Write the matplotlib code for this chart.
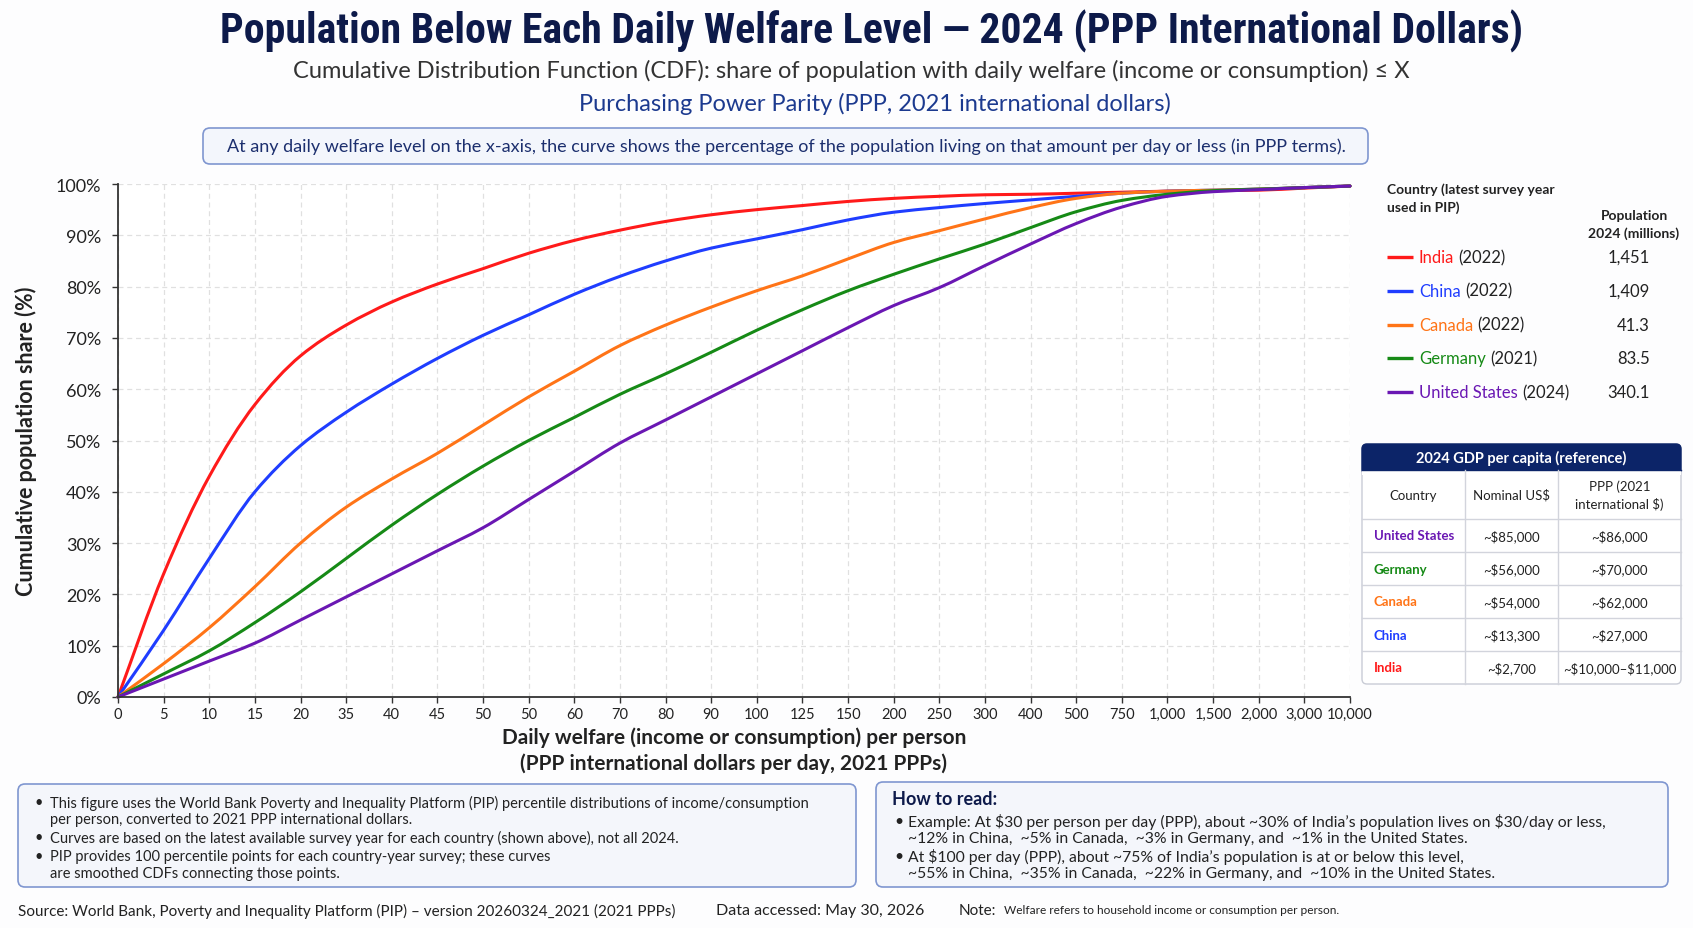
import numpy as np
import matplotlib.pyplot as plt
from matplotlib import font_manager
from matplotlib.patches import FancyBboxPatch, Rectangle, PathPatch
from matplotlib.path import Path

# x-axis categories (daily welfare, PPP $), as labelled in the figure
welfare_labels = ['0', '5', '10', '15', '20', '35', '40', '45', '50', '50', '60', '70', '80', '90',
                  '100', '125', '150', '200', '250', '300', '400', '500', '750', '1,000', '1,500',
                  '2,000', '3,000', '10,000']

# cumulative population share (%) at each label
india = [0, 24, 43, 57, 66.5, 72.5, 77, 80.5, 83.5, 86.5, 89, 91, 92.7, 94,
         95, 95.8, 96.6, 97.2, 97.6, 97.9, 98.0, 98.2, 98.4, 98.6, 98.7, 98.8, 99.2, 99.6]
china = [0, 13, 27, 40, 49, 55.5, 61, 66, 70.5, 74.5, 78.5, 82, 85, 87.5,
         89.3, 91.1, 93.0, 94.5, 95.4, 96.2, 96.9, 97.6, 98.2, 98.6, 98.8, 99.0, 99.3, 99.6]
canada = [0, 6.5, 13.5, 21.5, 30, 37, 42.5, 47.5, 53, 58.5, 63.5, 68.5, 72.5, 76,
          79.2, 82.1, 85.4, 88.6, 90.9, 93.2, 95.4, 97.2, 98.2, 98.6, 98.8, 99.0, 99.3, 99.6]
germany = [0, 4.5, 9, 14.5, 20.5, 27, 33.5, 39.5, 45, 50, 54.5, 59, 63, 67.2,
           71.5, 75.5, 79.2, 82.4, 85.4, 88.3, 91.5, 94.6, 96.8, 98.0, 98.7, 99.0, 99.3, 99.6]
usa = [0, 3.5, 7, 10.5, 15, 19.5, 24, 28.5, 33, 38.5, 44, 49.5, 54, 58.5,
       63, 67.5, 72, 76.3, 79.8, 84.1, 88.3, 92.3, 95.5, 97.6, 98.5, 98.9, 99.3, 99.6]

countries = ['India', 'China', 'Canada', 'Germany', 'United States']
survey_years = ['2022', '2022', '2022', '2021', '2024']
population = ['1,451', '1,409', '41.3', '83.5', '340.1']
colors = ['#ff1a1a', '#1f3dff', '#ff7417', '#168a16', '#6a17b3']
series = [india, china, canada, germany, usa]

# GDP per capita reference table
gdp_countries = ['United States', 'Germany', 'Canada', 'China', 'India']
gdp_nominal = ['~$85,000', '~$56,000', '~$54,000', '~$13,300', '~$2,700']
gdp_ppp = ['~$86,000', '~$70,000', '~$62,000', '~$27,000', '~$10,000–$11,000']

names = {f.name for f in font_manager.fontManager.ttflist}
BASE = 'Lato'
NARROW = None
for cand in ['Liberation Sans Narrow', 'DejaVu Sans Condensed', 'Roboto Condensed']:
    if cand in names:
        NARROW = cand
        break

plt.rcParams['font.family'] = [BASE, 'DejaVu Sans']
plt.rcParams['text.parse_math'] = False

W, H = 1693, 929
NAVY = '#0d1a4a'
DARK = '#222222'


def smooth_path(xs, ys):
    # monotone cubic (Fritsch-Carlson) through the points, as bezier segments
    xs = np.asarray(xs, float)
    ys = np.asarray(ys, float)
    h = np.diff(xs)
    d = np.diff(ys) / h
    m = np.zeros_like(ys)
    m[0], m[-1] = d[0], d[-1]
    for k in range(1, len(xs) - 1):
        if d[k - 1] * d[k] > 0:
            w1 = 2 * h[k] + h[k - 1]
            w2 = h[k] + 2 * h[k - 1]
            m[k] = (w1 + w2) / (w1 / d[k - 1] + w2 / d[k])
    verts = [(xs[0], ys[0])]
    codes = [Path.MOVETO]
    for k in range(len(xs) - 1):
        verts += [(xs[k] + h[k] / 3, ys[k] + m[k] * h[k] / 3),
                  (xs[k + 1] - h[k] / 3, ys[k + 1] - m[k + 1] * h[k] / 3),
                  (xs[k + 1], ys[k + 1])]
        codes += [Path.CURVE4] * 3
    return Path(verts, codes)


fig = plt.figure(figsize=(W / 100, H / 100), dpi=100, facecolor='#fdfdfe')

# decoration layer in pixel coordinates
deco = fig.add_axes([0, 0, 1, 1], zorder=0)
deco.set_xlim(0, W)
deco.set_ylim(H, 0)
deco.axis('off')


def rbox(x0, y0, x1, y1, fc, ec, r=7, lw=1.2):
    deco.add_patch(FancyBboxPatch((x0, y0), x1 - x0, y1 - y0,
                                  boxstyle=f'round,pad=0,rounding_size={r}',
                                  fc=fc, ec=ec, lw=lw))


# titles
if NARROW:
    tfam, tstretch = [NARROW, 'DejaVu Sans'], 'normal'
else:
    tfam, tstretch = ['DejaVu Sans'], 'condensed'
title = deco.text(872, 31, 'Population Below Each Daily Welfare Level — 2024 (PPP International Dollars)',
                  ha='center', va='center', fontsize=32, fontweight='bold', color=NAVY,
                  family=tfam, fontstretch=tstretch)
fig.canvas.draw()
tw = title.get_window_extent().width
title.set_fontsize(min(34, 32 * 1302 / tw))

deco.text(851, 71, 'Cumulative Distribution Function (CDF): share of population with daily welfare '
          '(income or consumption) ≤ X', ha='center', va='center', fontsize=17, color='#333333')
deco.text(875, 104, 'Purchasing Power Parity (PPP, 2021 international dollars)',
          ha='center', va='center', fontsize=17, color='#1c3a8f')

rbox(203, 129, 1368, 165, '#f3f6fc', '#7f96d0', r=7)
deco.text(786, 147, 'At any daily welfare level on the x-axis, the curve shows the percentage of the '
          'population living on that amount per day or less (in PPP terms).',
          ha='center', va='center', fontsize=13, color='#1c2f6e')

# main chart
ax = fig.add_axes([118 / W, 1 - 698 / H, (1350 - 118) / W, (698 - 185) / H], zorder=2)
ax.set_facecolor('white')
x = np.arange(len(welfare_labels))
for vals, c in zip(series, colors):
    ax.add_patch(PathPatch(smooth_path(x, vals), fill=False, ec=c, lw=2.2,
                           capstyle='round', joinstyle='round', clip_on=False))
ax.set_xlim(0, len(welfare_labels) - 1)
ax.set_ylim(0, 100)
ax.set_xticks(x, welfare_labels, fontsize=10.5, color=DARK)
ax.set_yticks(np.arange(0, 101, 10), [f'{v}%' for v in range(0, 101, 10)], fontsize=13, color=DARK)
ax.grid(True, ls=(0, (4, 3)), color='#e0e0e0', lw=0.9)
ax.set_axisbelow(True)
for s in ['top', 'right']:
    ax.spines[s].set_visible(False)
for s in ['left', 'bottom']:
    ax.spines[s].set_color('#333333')
    ax.spines[s].set_linewidth(1.3)
ax.tick_params(axis='both', length=4, width=1, color='#333333')
ax.tick_params(axis='y', pad=8)
ax.tick_params(axis='x', pad=3)
ax.set_ylabel('Cumulative population share (%)', fontsize=15.5, fontweight='bold', color=DARK)
ax.yaxis.set_label_coords(-0.066, 0.5)
ax.set_xlabel('Daily welfare (income or consumption) per person\n'
              '(PPP international dollars per day, 2021 PPPs)',
              fontsize=15, fontweight='bold', color=DARK, linespacing=1.3)
ax.xaxis.set_label_coords(0.5, -0.058)

# legend block
deco.text(1387, 199, 'Country (latest survey year\nused in PIP)', ha='left', va='center',
          fontsize=10, fontweight='bold', color=DARK, linespacing=1.5)
deco.text(1634, 225, 'Population\n2024 (millions)', ha='center', va='center',
          fontsize=10, fontweight='bold', color=DARK, linespacing=1.5)
for i, (name, yr, pop, c) in enumerate(zip(countries, survey_years, population, colors)):
    yy = 258 + i * 33.8
    deco.plot([1387, 1413], [yy, yy], color=c, lw=2.4, solid_capstyle='butt')
    t = deco.text(1419, yy, name, ha='left', va='center', fontsize=12, color=c)
    deco.annotate(f'({yr})', xy=(1, 0), xycoords=t, xytext=(3, 0), textcoords='offset points',
                  ha='left', va='bottom', fontsize=12, color=DARK)
    deco.text(1650, yy, pop, ha='right', va='center', fontsize=12, color=DARK)

# GDP table
tx0, tx1 = 1362, 1681
cols = [1362, 1465, 1558, 1681]
ty_head, ty_col, ty_rows = 445, 471, 520
row_h = 33
ty_end = ty_rows + row_h * len(gdp_countries)
rbox(tx0, ty_head, tx1, ty_end, 'white', '#c9ccd6', r=5, lw=1.0)
rbox(tx0, ty_head, tx1, ty_col + 4, '#0c2468', '#0c2468', r=5, lw=1.0)
deco.add_patch(Rectangle((tx0, ty_col), tx1 - tx0, 5, fc='white', ec='none'))
deco.plot([tx0, tx1], [ty_col, ty_col], color='#0c2468', lw=1)
deco.text((tx0 + tx1) / 2, (ty_head + ty_col) / 2, '2024 GDP per capita (reference)',
          ha='center', va='center', fontsize=10.5, fontweight='bold', color='white')
for cx in cols[1:-1]:
    deco.plot([cx, cx], [ty_col, ty_end], color='#d2d4dc', lw=1)
for k in range(len(gdp_countries)):
    yy = ty_rows + k * row_h
    deco.plot([tx0, tx1], [yy, yy], color='#d2d4dc', lw=1)
hy = (ty_col + ty_rows) / 2
deco.text((cols[0] + cols[1]) / 2, hy, 'Country', ha='center', va='center', fontsize=9.5, color=DARK)
deco.text((cols[1] + cols[2]) / 2, hy, 'Nominal US$', ha='center', va='center', fontsize=9.5,
          color=DARK)
deco.text((cols[2] + cols[3]) / 2, hy, 'PPP (2021\ninternational $)', ha='center', va='center',
          fontsize=9.5, color=DARK, linespacing=1.5)
gdp_colors = dict(zip(countries, colors))
for k, (cn, nom, ppp) in enumerate(zip(gdp_countries, gdp_nominal, gdp_ppp)):
    yy = ty_rows + (k + 0.5) * row_h
    deco.text(cols[0] + 12, yy, cn, ha='left', va='center', fontsize=9.5, fontweight='bold',
              color=gdp_colors[cn])
    deco.text((cols[1] + cols[2]) / 2, yy, nom, ha='center', va='center', fontsize=9.5, color=DARK)
    deco.text((cols[2] + cols[3]) / 2, yy, ppp, ha='center', va='center', fontsize=9.5, color=DARK)

# bottom notes
rbox(18, 785, 856, 888, '#f4f6fb', '#7f96d0', r=7)
left_lines = [
    (803, True, 'This figure uses the World Bank Poverty and Inequality Platform (PIP) percentile '
                'distributions of income/consumption'),
    (820, False, 'per person, converted to 2021 PPP international dollars.'),
    (838, True, 'Curves are based on the latest available survey year for each country '
                '(shown above), not all 2024.'),
    (857, True, 'PIP provides 100 percentile points for each country-year survey; these curves'),
    (874, False, 'are smoothed CDFs connecting those points.'),
]
for yy, bullet, txt in left_lines:
    if bullet:
        deco.text(35, yy, '•', ha='left', va='center', fontsize=10.5, color=DARK)
    deco.text(50, yy, txt, ha='left', va='center', fontsize=10.5, color=DARK)

rbox(876, 783, 1668, 888, '#f4f6fb', '#7f96d0', r=7)
deco.text(892, 800, 'How to read:', ha='left', va='center', fontsize=13, fontweight='bold', color=NAVY)
right_lines = [
    (822, True, 'Example: At $30 per person per day (PPP), about ~30% of India’s population lives '
                'on $30/day or less,'),
    (839, False, '~12% in China,  ~5% in Canada,  ~3% in Germany, and  ~1% in the United States.'),
    (857, True, 'At $100 per day (PPP), about ~75% of India’s population is at or below this level,'),
    (874, False, '~55% in China,  ~35% in Canada,  ~22% in Germany, and  ~10% in the United States.'),
]
for yy, bullet, txt in right_lines:
    if bullet:
        deco.text(894, yy, '•', ha='left', va='center', fontsize=11.3, color=DARK)
    deco.text(908, yy, txt, ha='left', va='center', fontsize=11.3, color=DARK)

deco.text(18, 911, 'Source: World Bank, Poverty and Inequality Platform (PIP) – version 20260324_2021 '
          '(2021 PPPs)', ha='left', va='center', fontsize=11, color=DARK)
deco.text(716, 911, 'Data accessed: May 30, 2026', ha='left', va='center', fontsize=11.5, color=DARK)
deco.text(959, 911, 'Note:', ha='left', va='center', fontsize=11, color=DARK)
deco.text(1004, 911, 'Welfare refers to household income or consumption per person.',
          ha='left', va='center', fontsize=8.6, color=DARK)

fig.savefig('out.png', dpi=100, facecolor=fig.get_facecolor())
